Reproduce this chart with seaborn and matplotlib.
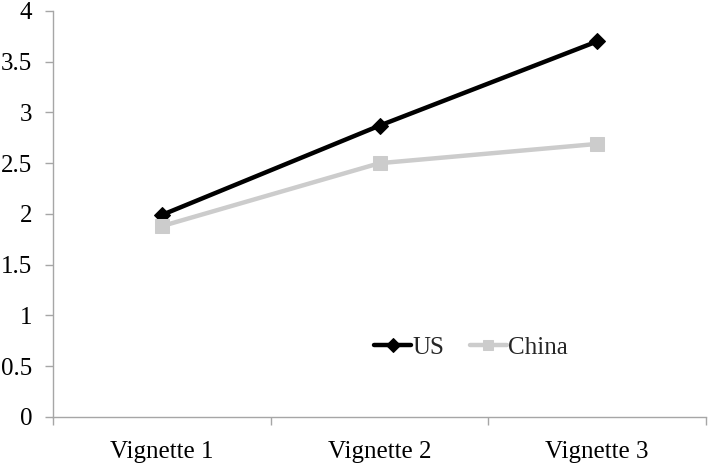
import matplotlib
matplotlib.use("Agg")
import matplotlib.pyplot as plt
import seaborn as sns
import pandas as pd
from matplotlib.ticker import FixedLocator

categories = ["Vignette 1", "Vignette 2", "Vignette 3"]
us_values = [1.99, 2.87, 3.70]
china_values = [1.88, 2.50, 2.69]
y_ticks = [0, 0.5, 1, 1.5, 2, 2.5, 3, 3.5, 4]
y_tick_labels = ["0", "0.5", "1", "1.5", "2", "2.5", "3", "3.5", "4"]

sns.set_theme(style="white")
plt.rcParams['font.family'] = ['Liberation Serif', 'DejaVu Serif']

df = pd.DataFrame({
    "pos": list(range(len(categories))) * 2,
    "value": us_values + china_values,
    "country": ["US"] * len(categories) + ["China"] * len(categories),
})

fig = plt.figure(figsize=(7.09, 4.63), dpi=100)
ax = fig.add_axes([0.0748, 0.0994, 0.921, 0.877])

sns.lineplot(data=df[df["country"] == "US"], x="pos", y="value", color="black",
             linewidth=3.2, marker="D", markersize=8.5, markeredgecolor="black",
             label="US", ax=ax)
sns.lineplot(data=df[df["country"] == "China"], x="pos", y="value", color="#cccccc",
             linewidth=3.2, marker="s", markersize=9.5, markeredgecolor="#cccccc",
             label="China", ax=ax)

ax.set_xlim(-0.5, 2.5)
ax.set_ylim(0, 4)
ax.set_yticks(y_ticks)
ax.set_yticklabels(y_tick_labels)
ax.set_xticks(range(len(categories)))
ax.set_xticklabels(categories)
ax.xaxis.set_minor_locator(FixedLocator([-0.5, 0.5, 1.5, 2.5]))

ax.set_xlabel("")
ax.set_ylabel("")
for s in ["top", "right"]:
    ax.spines[s].set_visible(False)
for s in ["left", "bottom"]:
    ax.spines[s].set_color("#a6a6a6")
    ax.spines[s].set_linewidth(1.0)

ax.tick_params(axis="y", which="major", length=6, width=1, color="#a6a6a6",
               direction="out", left=True, labelsize=18, pad=9, labelcolor="black")
ax.tick_params(axis="x", which="major", length=0, labelsize=18, pad=17, labelcolor="black")
ax.tick_params(axis="x", which="minor", length=6, width=1, color="#a6a6a6",
               direction="out", bottom=True)

ax.legend(loc="center", bbox_to_anchor=(0.64, 0.17), ncol=2, frameon=False,
          fontsize=18, handlelength=1.5, handletextpad=0.05, columnspacing=1.0,
          markerscale=0.8)

fig.savefig("out.png", dpi=100)
